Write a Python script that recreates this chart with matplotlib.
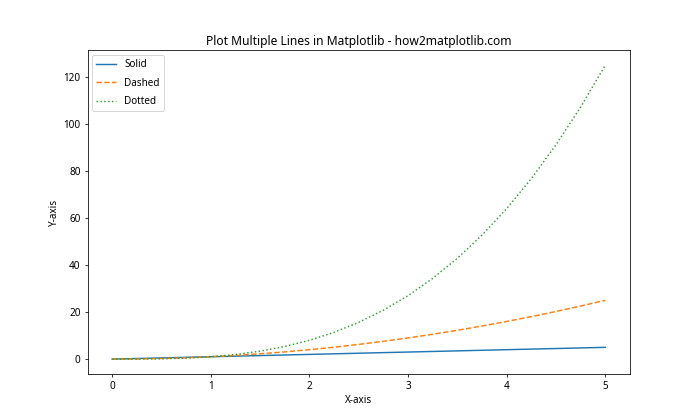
import matplotlib
matplotlib.use("Agg")
import matplotlib.pyplot as plt

plt.rcParams['font.family'] = ['Noto Sans', 'DejaVu Sans']

x_values = [0, 0.25, 0.5, 0.75, 1, 1.25, 1.5, 1.75, 2, 2.25, 2.5,
            2.75, 3, 3.25, 3.5, 3.75, 4, 4.25, 4.5, 4.75, 5]
solid_values = [0, 0.25, 0.5, 0.75, 1, 1.25, 1.5, 1.75, 2, 2.25, 2.5,
                2.75, 3, 3.25, 3.5, 3.75, 4, 4.25, 4.5, 4.75, 5]
dashed_values = [0, 0.06, 0.25, 0.56, 1, 1.56, 2.25, 3.06, 4, 5.06, 6.25,
                 7.56, 9, 10.56, 12.25, 14.06, 16, 18.06, 20.25, 22.56, 25]
dotted_values = [0, 0.02, 0.13, 0.42, 1, 1.95, 3.38, 5.36, 8, 11.39, 15.63,
                 20.8, 27, 34.33, 42.88, 52.73, 64, 76.77, 91.13, 107.17, 125]

fig, ax = plt.subplots(figsize=(10, 6), dpi=70)
ax.plot(x_values, solid_values, linestyle='-', label='Solid')
ax.plot(x_values, dashed_values, linestyle='--', label='Dashed')
ax.plot(x_values, dotted_values, linestyle=':', label='Dotted')
ax.set_title('Plot Multiple Lines in Matplotlib - how2matplotlib.com', fontsize=12.4)
ax.set_xlabel('X-axis', fontsize=10.2)
ax.set_ylabel('Y-axis', fontsize=10.2)
ax.tick_params(labelsize=10.2)
ax.legend(loc='upper left', fontsize=10.2, labelspacing=0.75)
fig.savefig('out.png', dpi=70)
